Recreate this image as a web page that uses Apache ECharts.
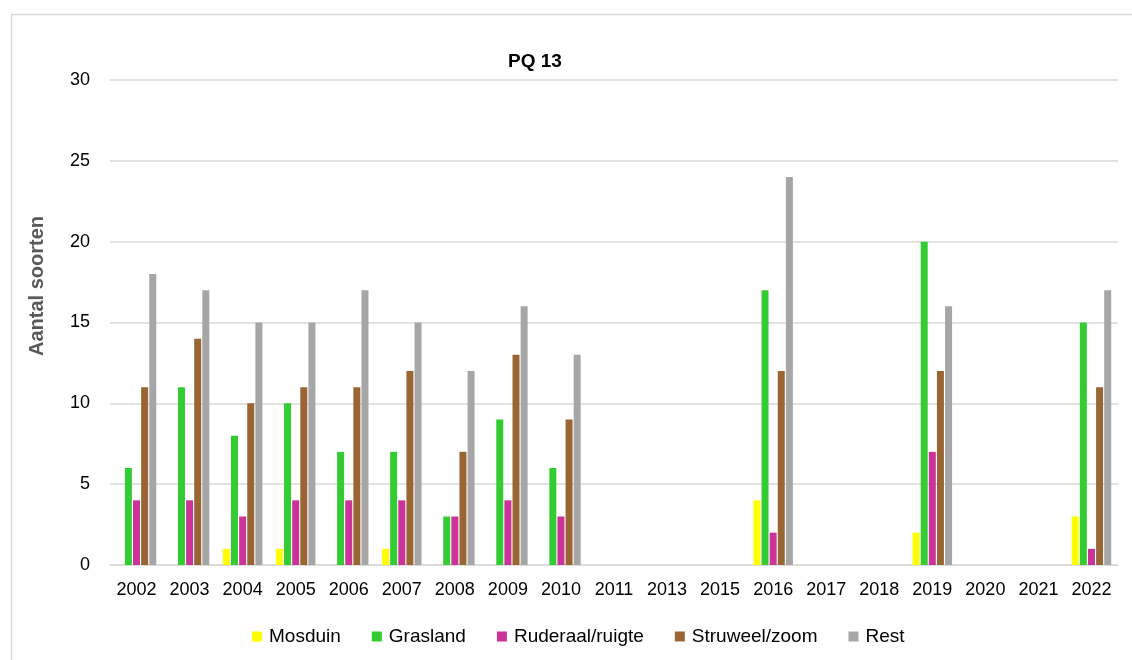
<!DOCTYPE html>
<html>
<head>
<meta charset="utf-8">
<script src="https://cdn.jsdelivr.net/npm/echarts@6/dist/echarts.min.js"></script>
<style>
  html, body { margin: 0; padding: 0; background: #fff; }
  #chart { width: 1132px; height: 660px; }
</style>
</head>
<body>
<div id="chart"></div>
<script>
// Survey years of plot PQ 13
const years = ['2002', '2003', '2004', '2005', '2006', '2007', '2008', '2009', '2010',
  '2011', '2013', '2015', '2016', '2017', '2018', '2019', '2020', '2021', '2022'];

// Number of species per vegetation group (null = no survey that year)
const mosduin   = [0, 0, 1, 1, 0, 1, 0, 0, 0, null, null, null, 4, null, null, 2, null, null, 3];
const grasland  = [6, 11, 8, 10, 7, 7, 3, 9, 6, null, null, null, 17, null, null, 20, null, null, 15];
const ruderaal  = [4, 4, 3, 4, 4, 4, 3, 4, 3, null, null, null, 2, null, null, 7, null, null, 1];
const struweel  = [11, 14, 10, 11, 11, 12, 7, 13, 9, null, null, null, 12, null, null, 12, null, null, 11];
const rest      = [18, 17, 15, 15, 17, 15, 12, 16, 13, null, null, null, 24, null, null, 16, null, null, 17];

const yTicks = { min: 0, max: 30, interval: 5 };

const font = 'Liberation Sans';

function barSeries(name, data, color) {
  return {
    name: name,
    type: 'bar',
    data: data,
    barWidth: 7,
    barGap: '16%',
    itemStyle: { color: color },
    emphasis: { disabled: true }
  };
}

const chart = echarts.init(document.getElementById('chart'), null, { renderer: 'canvas' });

chart.setOption({
  animation: false,
  backgroundColor: '#ffffff',
  textStyle: { fontFamily: font },
  graphic: [{
    type: 'rect',
    left: 9, top: 12,
    shape: { width: 1140, height: 670 },
    style: { fill: 'none', stroke: '#d9d9d9', lineWidth: 1.5 },
    silent: true
  }, {
    // vertical axis title
    type: 'text',
    x: 37, y: 286,
    rotation: Math.PI / 2,
    style: {
      text: 'Aantal soorten',
      fontFamily: font, fontSize: 20, fontWeight: 'bold',
      fill: '#595959', align: 'center', verticalAlign: 'middle'
    },
    silent: true
  }],
  title: {
    text: 'PQ 13',
    left: 530,
    top: 47,
    textAlign: 'center',
    textStyle: { fontFamily: font, fontSize: 19, fontWeight: 'bold', color: '#000000' }
  },
  legend: {
    left: 247,
    top: 622,
    itemWidth: 10,
    itemHeight: 10,
    itemGap: 31,
    icon: 'rect',
    textStyle: { fontFamily: font, fontSize: 19, color: '#000000', padding: [0, 0, 0, 2] },
    data: ['Mosduin', 'Grasland', 'Ruderaal/ruigte', 'Struweel/zoom', 'Rest']
  },
  grid: { left: 110, right: 14, top: 80, bottom: 95, containLabel: false },
  xAxis: {
    type: 'category',
    data: years,
    axisTick: { show: false },
    axisLine: { lineStyle: { color: '#d9d9d9', width: 1.5 } },
    axisLabel: { fontFamily: font, fontSize: 18, color: '#000000', margin: 16, interval: 0 }
  },
  yAxis: {
    type: 'value',
    min: yTicks.min,
    max: yTicks.max,
    interval: yTicks.interval,
    axisLine: { show: false },
    axisTick: { show: false },
    axisLabel: { fontFamily: font, fontSize: 18, color: '#000000', margin: 20 },
    splitLine: { lineStyle: { color: '#d9d9d9', width: 1.5 } }
  },
  series: [
    barSeries('Mosduin', mosduin, '#ffff00'),
    barSeries('Grasland', grasland, '#33cc33'),
    barSeries('Ruderaal/ruigte', ruderaal, '#cc3399'),
    barSeries('Struweel/zoom', struweel, '#996633'),
    barSeries('Rest', rest, '#a6a6a6')
  ]
});
</script>
</body>
</html>
